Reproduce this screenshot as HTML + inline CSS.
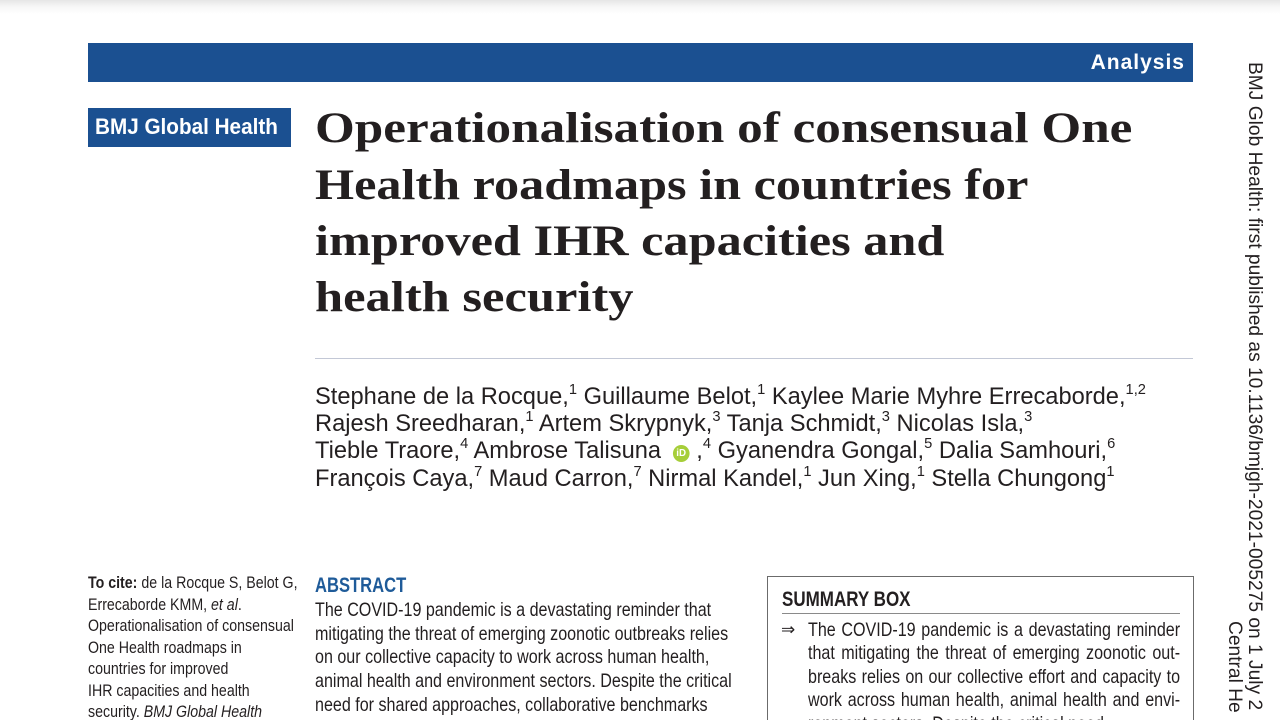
<!DOCTYPE html>
<html>
<head>
<meta charset="utf-8">
<style>
  html, body { margin:0; padding:0; width:1280px; height:720px; overflow:hidden; background:#ffffff; }
  #page {
    width:1280px; height:720px; overflow:hidden; position:relative;
    background:#ffffff;
    font-family:"Liberation Sans", Arial, sans-serif;
    color:#231f20;
  }
  .topshade { position:absolute; left:0; top:0; width:1280px; height:14px;
    background:linear-gradient(to bottom, #e6e6e6 0%, #f6f6f6 45%, #ffffff 100%); }
  .bar { position:absolute; left:88px; top:43px; width:1105px; height:39px; background:#1b5091; }
  .analysis { position:absolute; right:8px; top:9px; font-size:21px; line-height:21px; font-weight:bold;
    color:#fff; letter-spacing:1px; white-space:nowrap; }
  .brand { position:absolute; left:88px; top:108px; width:203px; height:39px; background:#1b5091; overflow:hidden; }
  .brand span { position:absolute; left:7px; top:8px; font-size:22.5px; line-height:22.5px; font-weight:bold; color:#fff;
    white-space:nowrap; transform:scaleX(0.92); transform-origin:0 0; }
  .tl { position:absolute; left:315px; font-family:"Liberation Serif", "Times New Roman", serif; font-weight:bold;
    font-size:43px; line-height:43px; color:#231f20; white-space:nowrap; transform-origin:0 0; }
  .rule { position:absolute; left:315px; top:358px; width:878px; height:1px; background:#c3c8d6; }
  .authors { position:absolute; left:315px; top:383px; font-size:24.2px; line-height:27.2px; white-space:nowrap; color:#231f20;
    transform:scaleX(0.978); transform-origin:0 0; }
  .authors sup { font-size:15px; line-height:0; vertical-align:0; position:relative; top:-10px; }
  .orcid { display:inline-block; width:17px; height:17px; border-radius:50%; background:#a6ce39; color:#fff;
    font-size:10px; line-height:17px; text-align:center; vertical-align:2px; margin:0 7px 0 12px; font-weight:bold; }
  .clip { position:absolute; overflow:hidden; }
  .cite { position:absolute; left:0; top:0; font-size:16.5px; line-height:21.5px; white-space:nowrap;
    transform:scaleX(0.86); transform-origin:0 0; color:#231f20; }
  .abshead { position:absolute; left:315px; top:575px; font-size:21px; line-height:21px; font-weight:bold; color:#1f5b99;
    transform:scaleX(0.79); transform-origin:0 0; white-space:nowrap; }
  .abstract { position:absolute; left:0; top:0; font-size:19.5px; line-height:23.7px; white-space:nowrap;
    transform:scaleX(0.825); transform-origin:0 0; color:#231f20; }
  .sbox { position:absolute; left:767px; top:576px; width:427px; height:144px; box-sizing:border-box;
    border:1px solid #6b6b6b; border-bottom:none; }
  .shead { position:absolute; left:782px; top:589px; font-size:21px; line-height:21px; font-weight:bold; color:#231f20;
    transform:scaleX(0.81); transform-origin:0 0; white-space:nowrap; }
  .srule { position:absolute; left:782px; top:613px; width:398px; height:1px; background:#8a8a8a; }
  .arrow { position:absolute; left:781px; top:619px; font-family:"DejaVu Sans", "Liberation Sans", sans-serif; font-size:17px; line-height:23.7px; color:#231f20; }
  .stext { position:absolute; left:0; top:0; width:451px; font-size:19.5px; line-height:23.6px;
    transform:scaleX(0.825); transform-origin:0 0; color:#231f20; }
  .stext div { text-align:justify; text-align-last:justify; white-space:normal; }
  .stext div.last { text-align:left; text-align-last:left; white-space:nowrap; }
  .vert { position:absolute; font-size:19.2px; line-height:19.2px; white-space:nowrap; color:#231f20;
    transform:rotate(90deg); transform-origin:0 0; }
</style>
</head>
<body>
<div id="page">
  <div class="topshade"></div>

  <div class="bar"><div class="analysis">Analysis</div></div>

  <div class="brand"><span>BMJ Global Health</span></div>

  <div class="tl" style="top:107px; transform:scaleX(1.19);">Operationalisation of consensual One</div>
  <div class="tl" style="top:164px; transform:scaleX(1.168);">Health roadmaps in countries for</div>
  <div class="tl" style="top:220px; transform:scaleX(1.17);">improved IHR capacities and</div>
  <div class="tl" style="top:276px; transform:scaleX(1.175);">health security</div>

  <div class="rule"></div>

  <div class="authors">
    Stephane de la Rocque,<sup>1</sup> Guillaume Belot,<sup>1</sup> Kaylee Marie Myhre Errecaborde,<sup>1,2</sup><br>
    Rajesh Sreedharan,<sup>1</sup> Artem Skrypnyk,<sup>3</sup> Tanja Schmidt,<sup>3</sup> Nicolas Isla,<sup>3</sup><br>
    Tieble Traore,<sup>4</sup> Ambrose Talisuna<span class="orcid">iD</span>,<sup>4</sup> Gyanendra Gongal,<sup>5</sup> Dalia Samhouri,<sup>6</sup><br>
    François Caya,<sup>7</sup> Maud Carron,<sup>7</sup> Nirmal Kandel,<sup>1</sup> Jun Xing,<sup>1</sup> Stella Chungong<sup>1</sup>
  </div>

  <div class="clip" style="left:88px; top:573px; width:215px; height:147px;">
    <div class="cite">
      <b>To cite:</b> de la Rocque S, Belot G,<br>
      Errecaborde KMM, <i>et al</i>.<br>
      Operationalisation of consensual<br>
      One Health roadmaps in<br>
      countries for improved<br>
      IHR capacities and health<br>
      security. <i>BMJ Global Health</i>
    </div>
  </div>

  <div class="abshead">ABSTRACT</div>
  <div class="clip" style="left:315px; top:599px; width:440px; height:121px;">
    <div class="abstract">
      The COVID-19 pandemic is a devastating reminder that<br>
      mitigating the threat of emerging zoonotic outbreaks relies<br>
      on our collective capacity to work across human health,<br>
      animal health and environment sectors. Despite the critical<br>
      need for shared approaches, collaborative benchmarks<br>
      in the International Health Regulations (IHR) Monitoring
    </div>
  </div>

  <div class="sbox"></div>
  <div class="shead">SUMMARY BOX</div>
  <div class="srule"></div>
  <div class="arrow">⇒</div>
  <div class="clip" style="left:808px; top:618.5px; width:380px; height:101.5px;">
    <div class="stext">
      <div>The COVID-19 pandemic is a devastating reminder</div>
      <div>that mitigating the threat of emerging zoonotic out-</div>
      <div>breaks relies on our collective effort and capacity to</div>
      <div>work across human health, animal health and envi-</div>
      <div class="last">ronment sectors. Despite the critical need</div>
    </div>
  </div>

  <div class="vert" style="left:1263.5px; top:61.5px;">BMJ Glob Health: first published as 10.1136/bmjgh-2021-005275 on 1 July 2</div>
  <div class="vert" style="left:1243.5px; top:621px;">Central He</div>
</div>
</body>
</html>
